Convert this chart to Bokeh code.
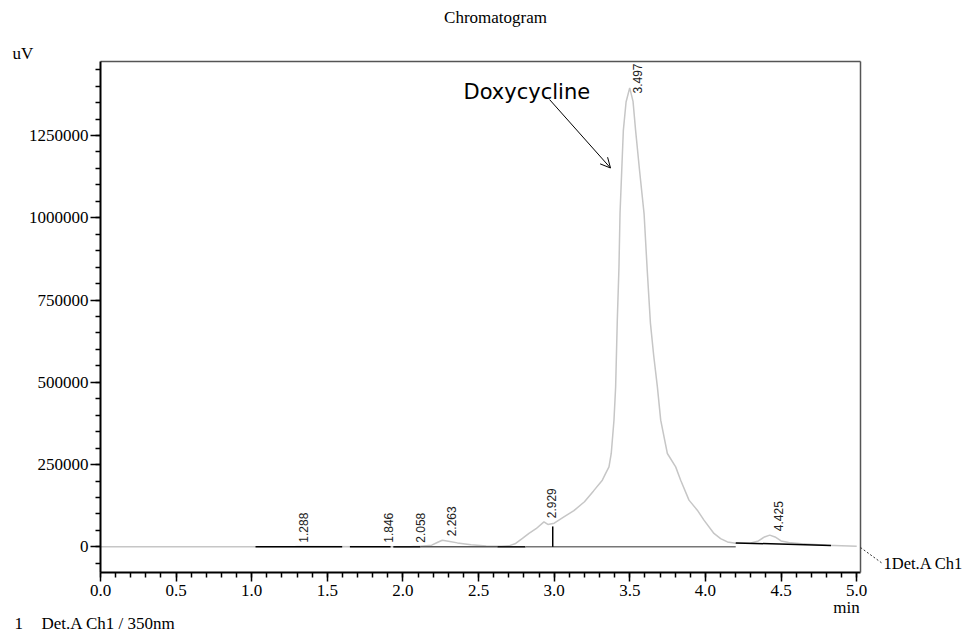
import numpy as np
from bokeh.plotting import figure
from bokeh.models import (ColumnDataSource, Label, Arrow, OpenHead, LinearAxis,
                          NumeralTickFormatter, SingleIntervalTicker, FixedTicker, Range1d)
from bokeh.core.properties import value
from bokeh.embed import file_html
from bokeh.resources import INLINE

# ---------------- data ----------------
time_min = [0.00, 1.00, 1.28, 1.30, 1.84, 1.86, 2.05, 2.07, 2.10, 2.19, 2.23, 2.26,
            2.30, 2.36, 2.45, 2.55, 2.65, 2.70, 2.745, 2.79, 2.833, 2.88, 2.932,
            2.958, 3.00, 3.064, 3.13, 3.20, 3.26, 3.318, 3.345, 3.362, 3.377,
            3.395, 3.406, 3.417, 3.428, 3.435, 3.446, 3.457, 3.475, 3.499, 3.521,
            3.538, 3.565, 3.594, 3.615, 3.636, 3.658, 3.682, 3.704, 3.748, 3.803,
            3.836, 3.891, 3.946, 3.990, 4.056, 4.10, 4.145, 4.20, 4.30, 4.35,
            4.39, 4.425, 4.46, 4.50, 4.55, 4.65, 4.80, 5.00]
signal_uv = [0, 0, 0, 800, 0, 600, 0, 700, 1000, 5000, 14000, 20000,
             17000, 12000, 6000, 2500, 1500, 3000, 10300, 25500, 40700, 55000, 75900,
             68000, 72000, 91100, 110000, 137000, 170000, 202600, 228000, 243000, 283700,
             384900, 486000, 688600, 850000, 1012800, 1140000, 1265800, 1352000, 1395000, 1354000,
             1265800, 1140000, 1012800, 840000, 680000, 580000, 486000, 384900, 283700, 243000,
             202600, 141900, 111500, 81100, 40700, 25000, 15000, 11000, 11500, 18000,
             30000, 35500, 30000, 18000, 13000, 9000, 5000, 2000]

peak_times = [1.288, 1.846, 2.058, 2.263, 2.929, 3.497, 4.425]
peak_labels = ["1.288", "1.846", "2.058", "2.263", "2.929", "3.497", "4.425"]

# integration baselines: start/end time, start/end level
base_t0 = [1.025, 1.649, 1.936, 2.116, 2.624, 2.810, 4.200]
base_t1 = [1.598, 1.918, 2.116, 2.624, 2.810, 4.200, 4.830]
base_v0 = [0, 0, 0, 0, 0, 0, 12000]
base_v1 = [0, 0, 0, 0, 0, 0, 4000]
base_col = ["black", "black", "black", "#555555", "black", "#777777", "black"]

drop_t = [2.99]
drop_top = [62000]

X_START, X_END = 0.0, 5.025          # visible time axis (min)
Y_START, Y_END = -78000, 1475000     # visible signal axis (uV)

# ---------------- layout constants (page pixels) ----------------
W, H = 976, 634
FL, FR, FT, FB = 100, 860, 61, 572   # plot-box edges
UX = (X_END - X_START) / (FR - FL)   # data units per px
UY = (Y_END - Y_START) / (FB - FT)

def dx(X):
    return X_START + (X - FL) * UX
def dy(Y):
    return Y_END - (Y - FT) * UY

p = figure(width=W, height=H, output_backend="svg", toolbar_location=None,
           x_range=Range1d(dx(0), dx(W)), y_range=Range1d(dy(H), dy(0)),
           min_border=0, x_axis_location=None, y_axis_location=None)
p.background_fill_color = "white"
p.border_fill_color = "white"
p.outline_line_color = None
p.xgrid.visible = False
p.ygrid.visible = False

serif = "Liberation Serif"

def style_axis(ax):
    ax.axis_line_color = "black"
    ax.axis_line_width = 2
    ax.major_tick_line_color = "black"
    ax.minor_tick_line_color = "black"
    ax.major_tick_line_width = 1.5
    ax.minor_tick_line_width = 1.5
    ax.major_tick_in = 0
    ax.minor_tick_in = 0
    ax.major_label_text_font = serif
    ax.major_label_text_font_size = "17px"
    ax.major_label_text_color = "black"

xax = LinearAxis(fixed_location=Y_START, bounds=(X_START, X_END),
                 ticker=SingleIntervalTicker(interval=0.5, num_minor_ticks=5),
                 formatter=NumeralTickFormatter(format="0.0"))
style_axis(xax)
xax.major_tick_out = 9
xax.minor_tick_out = 5
xax.major_label_standoff = 3
p.add_layout(xax, "below")

yax = LinearAxis(fixed_location=X_START, bounds=(Y_START, Y_END),
                 ticker=SingleIntervalTicker(interval=250000, num_minor_ticks=5),
                 formatter=NumeralTickFormatter(format="0"))
style_axis(yax)
yax.major_tick_out = 10
yax.minor_tick_out = 5
yax.major_label_standoff = 2
p.add_layout(yax, "left")

# top and right edges of the plot box
for loc, side, bnds in ((Y_END, "above", (X_START, X_END)), (X_END, "right", (Y_START, Y_END))):
    ax = LinearAxis(fixed_location=loc, bounds=bnds, ticker=FixedTicker(ticks=[]),
                    major_label_text_font_size="0px", axis_line_color="#555555",
                    axis_line_width=1.5, major_tick_line_color=None, minor_tick_line_color=None)
    p.add_layout(ax, side)

# signal
p.line(time_min, signal_uv, line_color="#c6c6c6", line_width=1.5)

# integration baselines and drop line
bsrc = ColumnDataSource(dict(x0=base_t0, x1=base_t1, y0=base_v0, y1=base_v1, c=base_col))
p.segment(x0="x0", y0="y0", x1="x1", y1="y1", line_color="c", line_width=1.5, source=bsrc)
p.segment(x0=drop_t, y0=[0] * len(drop_t), x1=drop_t, y1=drop_top,
          line_color="black", line_width=1.5)

# rotated retention-time labels
heights = np.interp(peak_times, time_min, signal_uv)
label_y = np.minimum(heights, Y_END - 36 * UY)
lsrc = ColumnDataSource(dict(x=peak_times, y=label_y, t=peak_labels))
p.text(x="x", y="y", text="t", source=lsrc, angle=np.pi / 2,
       text_align="left", text_baseline="top", x_offset=4, y_offset=-4,
       text_font=value("Liberation Sans"), text_font_size="12px",
       text_color="#222222")

# Doxycycline annotation (label box bottom sits ~5px below the baseline)
p.add_layout(Label(x=dx(463), y=dy(96.7 - 5.5), text="Doxycycline",
                   text_font="DejaVu Sans", text_font_size="21px",
                   text_color="black", text_baseline="alphabetic"))
p.add_layout(Arrow(x_start=dx(549), y_start=dy(99), x_end=dx(610), y_end=dy(167.5),
                   line_color="black", line_width=1,
                   end=OpenHead(size=10, line_color="black", line_width=1)))

# surrounding texts
def txt(X, Y, text, align="left", size="17px"):
    p.add_layout(Label(x=dx(X), y=dy(Y - 5), text=text, text_font=serif,
                       text_font_size=size, text_color="black",
                       text_align=align, text_baseline="alphabetic"))

txt(495, 21.7, "Chromatogram", align="center")
txt(12, 58.3, "uV")
txt(846, 611.7, "min", align="center")
txt(14, 628, "1")
txt(41, 628, "Det.A Ch1 / 350nm")
txt(883, 568, "1Det.A Ch1", size="16.5px")

p.add_layout(Arrow(x_start=dx(860), y_start=dy(547), x_end=dx(882), y_end=dy(563),
                   line_color="#333333", line_width=1, line_dash="2 2", end=None))

open("out.html", "w").write(file_html(p, INLINE))
